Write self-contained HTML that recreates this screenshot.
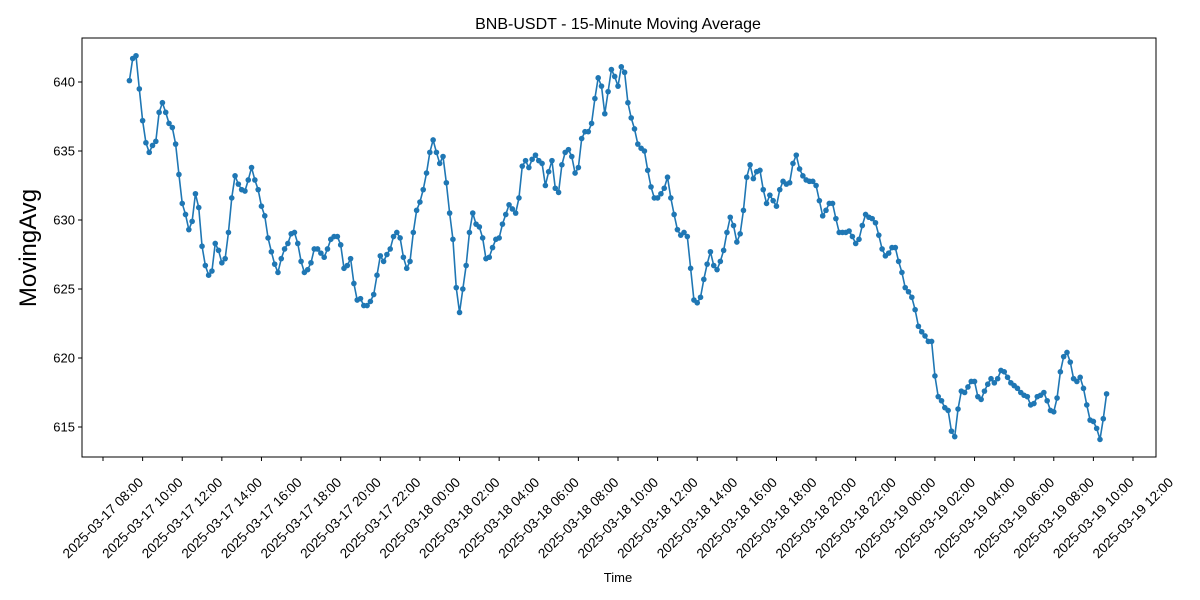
<!DOCTYPE html>
<html><head><meta charset="utf-8"><style>
html,body{margin:0;padding:0;background:#fff;}
svg{display:block;font-family:"Liberation Sans","DejaVu Sans",sans-serif;}
</style></head><body>
<svg id="chart" width="1200" height="600" viewBox="0 0 1200 600">
<rect x="0" y="0" width="1200" height="600" fill="#fff"/>
<text x="618" y="29" font-size="16" text-anchor="middle" fill="#000">BNB-USDT - 15-Minute Moving Average</text>
<text x="618" y="582" font-size="13" text-anchor="middle" fill="#000">Time</text>
<text transform="translate(36,248) rotate(-90)" font-size="24" text-anchor="middle" fill="#000">MovingAvg</text>
<g id="yticks"></g>
<g id="xticks"></g>
<g id="series"></g>
<rect x="82" y="38" width="1074" height="419" fill="none" stroke="#000" stroke-width="1"/>
</svg>
<script>
const yTickValues = [615, 620, 625, 630, 635, 640];
const xTickHours = [8,10,12,14,16,18,20,22,24,26,28,30,32,34,36,38,40,42,44,46,48,50,52,54,56,58,60];
const xTickLabels = ["2025-03-17 08:00","2025-03-17 10:00","2025-03-17 12:00","2025-03-17 14:00","2025-03-17 16:00","2025-03-17 18:00","2025-03-17 20:00","2025-03-17 22:00","2025-03-18 00:00","2025-03-18 02:00","2025-03-18 04:00","2025-03-18 06:00","2025-03-18 08:00","2025-03-18 10:00","2025-03-18 12:00","2025-03-18 14:00","2025-03-18 16:00","2025-03-18 18:00","2025-03-18 20:00","2025-03-18 22:00","2025-03-19 00:00","2025-03-19 02:00","2025-03-19 04:00","2025-03-19 06:00","2025-03-19 08:00","2025-03-19 10:00","2025-03-19 12:00"];
const startHour = 9 + 20/60;
const stepMinutes = 10;
const movingAvg = [
640.1,641.7,641.9,639.5,637.2,635.6,634.9,635.4,635.7,637.8,638.5,637.8,637.0,636.7,635.5,633.3,631.2,630.4,629.3,629.9,631.9,630.9,628.1,626.7,626.0,626.3,628.3,627.8,626.9,627.2,629.1,631.6,633.2,632.6,632.2,632.1,632.9,
633.8,632.9,632.2,631.0,630.3,628.7,627.7,626.8,626.2,627.2,627.9,628.3,629.0,629.1,628.3,627.0,626.2,626.4,626.9,627.9,627.9,627.6,627.3,627.9,628.6,628.8,628.8,628.2,626.5,626.7,627.2,625.4,624.2,624.3,623.8,623.8,624.1,624.6,
626.0,627.4,627.0,627.5,627.9,628.8,629.1,628.7,627.3,626.5,627.0,629.1,630.7,631.3,632.2,633.4,634.9,635.8,634.9,634.1,634.6,632.7,630.5,628.6,625.1,623.3,625.0,626.7,629.1,630.5,629.7,629.5,628.7,627.2,627.3,628.0,628.6,628.7,629.7,
630.4,631.1,630.8,630.5,631.6,633.9,634.3,633.8,634.4,634.7,634.3,634.1,632.5,633.5,634.3,632.3,632.0,634.0,634.9,635.1,634.6,633.4,633.8,635.9,636.4,636.4,637.0,638.8,640.3,639.7,637.7,639.3,640.9,640.4,639.7,641.1,
640.7,638.5,637.4,636.6,635.5,635.2,635.0,633.6,632.4,631.6,631.6,631.9,632.3,633.1,631.6,630.4,629.3,628.9,629.1,628.8,626.5,624.2,624.0,624.4,625.7,626.8,627.7,626.7,626.4,627.0,
627.8,629.1,630.2,629.6,628.4,629.0,630.7,633.1,634.0,633.0,633.5,633.6,632.2,631.2,631.8,631.4,631.0,632.2,632.8,632.6,632.7,634.1,634.7,633.7,633.2,632.9,632.8,632.8,632.5,631.4,630.3,
630.7,631.2,631.2,630.1,629.1,629.1,629.1,629.2,628.8,628.3,628.6,629.6,630.4,630.2,630.1,629.8,628.9,627.9,627.4,627.6,628.0,628.0,627.0,626.2,625.1,624.8,624.4,623.5,622.3,621.9,
621.6,621.2,621.2,618.7,617.2,616.9,616.4,616.2,614.7,614.3,616.3,617.6,617.5,617.9,618.3,618.3,617.2,617.0,617.6,618.1,618.5,618.2,618.5,619.1,619.0,618.6,618.2,618.0,617.8,617.5,
617.3,617.2,616.6,616.7,617.2,617.3,617.5,616.9,616.2,616.1,617.1,619.0,620.1,620.4,619.7,618.5,618.3,618.6,617.8,616.6,615.5,615.4,614.9,614.1,615.6,617.4
];
const NS = "http://www.w3.org/2000/svg";
const X0 = 103, PXH = 1030/52;
function xScale(h){ return X0 + (h - 8) * PXH; }
function yScale(v){ return 82 + (640 - v) * 13.8; }
const yg = document.getElementById('yticks');
yTickValues.forEach(v => {
  const y = yScale(v);
  const t = document.createElementNS(NS,'line');
  t.setAttribute('x1',78); t.setAttribute('x2',82); t.setAttribute('y1',y); t.setAttribute('y2',y);
  t.setAttribute('stroke','#000');
  
  
  yg.appendChild(t);
  const l = document.createElementNS(NS,'text');
  l.setAttribute('x',75); l.setAttribute('y',y+4.5); l.setAttribute('font-size',13); l.setAttribute('text-anchor','end');
  l.textContent = v;
  
  
  yg.appendChild(l);
});
const xg = document.getElementById('xticks');
xTickHours.forEach((h,i) => {
  const x = xScale(h);
  const t = document.createElementNS(NS,'line');
  t.setAttribute('x1',x); t.setAttribute('x2',x); t.setAttribute('y1',457); t.setAttribute('y2',461);
  t.setAttribute('stroke','#000');
  
  
  xg.appendChild(t);
  const l = document.createElementNS(NS,'text');
  const cy = 518;
  l.setAttribute('x',x); l.setAttribute('y',cy+4.5); l.setAttribute('font-size',13.6); l.setAttribute('text-anchor','middle');
  l.setAttribute('transform','rotate(-45 '+x+' '+cy+')');
  l.textContent = xTickLabels[i];
  
  
  xg.appendChild(l);
});
const sg = document.getElementById('series');
const pts = movingAvg.map((v,i) => [xScale(startHour + i*stepMinutes/60), yScale(v)]);
const pl = document.createElementNS(NS,'polyline');
pl.setAttribute('points', pts.map(p => p[0].toFixed(2)+','+p[1].toFixed(2)).join(' '));
pl.setAttribute('fill','none'); pl.setAttribute('stroke','#1f77b4'); pl.setAttribute('stroke-width',1.6);
pl.setAttribute('stroke-linejoin','round');


sg.appendChild(pl);
pts.forEach(p => {
  const c = document.createElementNS(NS,'circle');
  c.setAttribute('cx',p[0]); c.setAttribute('cy',p[1]); c.setAttribute('r',2.8); c.setAttribute('fill','#1f77b4');
  
  
  sg.appendChild(c);
});
</script>
</body></html>
